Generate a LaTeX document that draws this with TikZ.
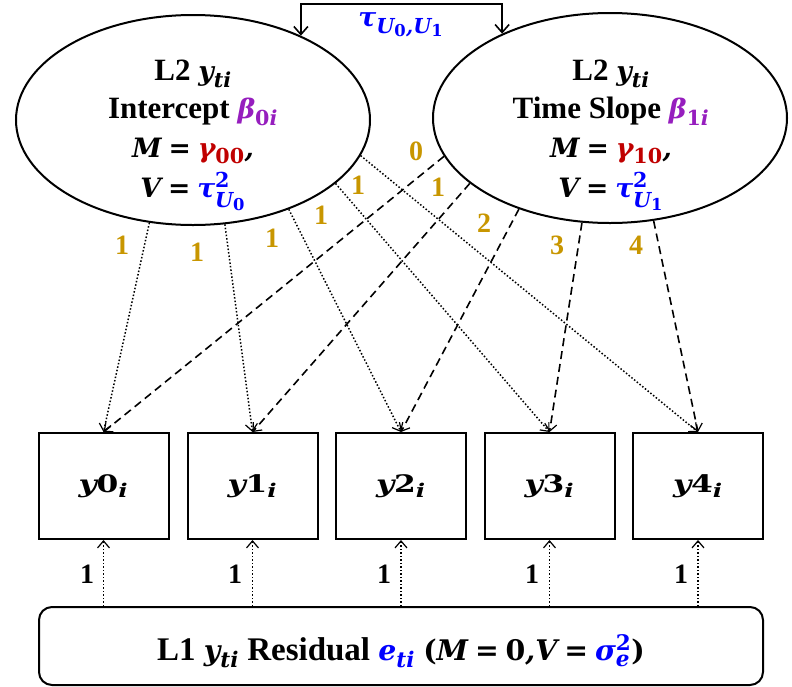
\documentclass[tikz,border=0pt]{standalone}
\usepackage{fontspec}
\usepackage{amsmath}
\setmainfont{Liberation Serif}
\newfontfamily\mathff[Scale=0.86]{DejaVu Serif}
\usetikzlibrary{arrows.meta,shapes.geometric}
\DeclareMathSizes{31}{31}{24}{19}
\DeclareMathSizes{33}{33}{25}{20}
\DeclareMathSizes{28}{28}{22}{17}
\definecolor{gold}{RGB}{200,150,0}
\definecolor{purp}{RGB}{150,30,190}
\definecolor{dred}{RGB}{192,0,0}
\definecolor{blu}{RGB}{0,0,255}
\newcommand\mvar[1]{\text{\mathff\bfseries\itshape #1}}
\newcommand\mnum[1]{\text{\mathff\bfseries #1}}
\newcommand\meq{\mathrel{\mnum{=}}}
\newcommand\obslab[1]{\scalebox{1.3}[1]{$\mvar{y}\mnum{#1}_{\mvar{i}}$}}
\tikzset{
  txt/.style={font=\fontsize{31}{38}\selectfont\bfseries, inner sep=0pt, anchor=base},
  bigtxt/.style={font=\fontsize{33}{40}\selectfont\bfseries, inner sep=0pt, anchor=base},
  latent/.style={draw, ellipse, line width=2pt, minimum width=354pt, minimum height=210pt, inner sep=0pt},
  obs/.style={draw, line width=2pt, minimum width=130pt, minimum height=106pt, inner sep=0pt,
    font=\fontsize{28}{34}\selectfont\bfseries},
  resbox/.style={draw, line width=2pt, rounded corners=13pt, minimum width=724pt, minimum height=78pt, inner sep=0pt},
  wlab/.style={text=gold, font=\fontsize{28}{30}\selectfont\bfseries, inner sep=0pt},
  blab/.style={text=black, font=\fontsize{28}{30}\selectfont\bfseries, inner sep=0pt},
  tip/.style={-{Straight Barb[length=7pt,width=12pt,line width=1.2pt]}},
  dotarrow/.style={tip, line width=1.5pt, dash pattern=on 1.5pt off 2pt},
  dasharrow/.style={tip, line width=1.6pt, dash pattern=on 8pt off 5pt},
  covarrow/.style={{Straight Barb[length=8pt,width=14pt,line width=1.6pt]}-{Straight Barb[length=8pt,width=14pt,line width=1.6pt]}, line width=2pt}
}
\begin{document}
\begin{tikzpicture}[x=1pt,y=-1pt]
\useasboundingbox (0,0) rectangle (792,686);
% latent ellipses
\node[latent] (L) at (193,120) {};
\node[latent] (R) at (610,118) {};
\node[txt] (La) at (193,80) {L2 $\mvar{y}_{\mvar{ti}}$};
\node[txt] (Lb) at (193,118) {Intercept {\color{purp}$\mvar{β}_{\mnum{0}\mvar{i}}$}};
\node[txt] (Lc) at (193,157) {$\mvar{M}\meq{\color{dred}\mvar{γ}_{\mnum{00}}}\mvar{,}$};
\node[txt] (Ld) at (193,197) {$\mvar{V}\meq{\color{blu}\mvar{τ}^{\mnum{2}}_{\mvar{U}_{\mnum{0}}}}$};
\node[txt] (Ra) at (611,80) {L2 $\mvar{y}_{\mvar{ti}}$};
\node[txt] (Rb) at (611,118) {Time Slope {\color{purp}$\mvar{β}_{\mnum{1}\mvar{i}}$}};
\node[txt] (Rc) at (611,157) {$\mvar{M}\meq{\color{dred}\mvar{γ}_{\mnum{10}}}\mvar{,}$};
\node[txt] (Rd) at (611,197) {$\mvar{V}\meq{\color{blu}\mvar{τ}^{\mnum{2}}_{\mvar{U}_{\mnum{1}}}}$};
% covariance
\coordinate (covtop) at (401,4);
\draw[covarrow] (L.38) |- (covtop) -| (R.142);
\node[txt, anchor=center, text=blu] (tau) at (401,25) {$\mvar{τ}_{\mvar{U}_{\mnum{0}}\mvar{,}\mvar{U}_{\mnum{1}}}$};
% observed boxes
\node[obs] (y0) at (103.5,486) {\obslab{0}};
\node[obs] (y1) at (252.5,486) {\obslab{1}};
\node[obs] (y2) at (401,486) {\obslab{2}};
\node[obs] (y3) at (549.5,486) {\obslab{3}};
\node[obs] (y4) at (698,486) {\obslab{4}};
% residual
\node[resbox] (res) at (401,646) {};
\node[bigtxt] (restext) at (401,660) {L1 $\mvar{y}_{\mvar{ti}}$ Residual {\color{blu}$\mvar{e}_{\mvar{ti}}$} $\text{\mathff(}\mvar{M}\meq\mnum{0}\mvar{,}\mvar{V}\meq{\color{blu}\mvar{σ}^{\mnum{2}}_{\mvar{e}}}\text{\mathff)}$};
% intercept loadings
\draw[dotarrow] (L.247) -- (y0.north);
\draw[dotarrow] (L.287) -- (y1.north);
\draw[dotarrow] (L.317) -- (y2.north);
\draw[dotarrow] (L.336) -- (y3.north);
\draw[dotarrow] (L.348) -- (y4.north);
% slope loadings
\draw[dasharrow] (R.193) -- (y0.north);
\draw[dasharrow] (R.205) -- (y1.north);
\draw[dasharrow] (R.225) -- (y2.north);
\draw[dasharrow] (R.255) -- (y3.north);
\draw[dasharrow] (R.293) -- (y4.north);
% loading labels
\node[wlab] (li0) at (122,245) {1};
\node[wlab] (li1) at (197,252) {1};
\node[wlab] (li2) at (272,238) {1};
\node[wlab] (li3) at (321,215) {1};
\node[wlab] (li4) at (358,185) {1};
\node[wlab] (ls0) at (416,151) {0};
\node[wlab] (ls1) at (438,187) {1};
\node[wlab] (ls2) at (484,223) {2};
\node[wlab] (ls3) at (557,245) {3};
\node[wlab] (ls4) at (636,245) {4};
% residual paths
\foreach \b/\x in {y0/87, y1/235, y2/384, y3/532, y4/681}{
  \draw[dotarrow] (res.north -| \b) -- (\b.south);
  \node[blab] (r\b) at (\x,574) {1};
}
\end{tikzpicture}
\end{document}
